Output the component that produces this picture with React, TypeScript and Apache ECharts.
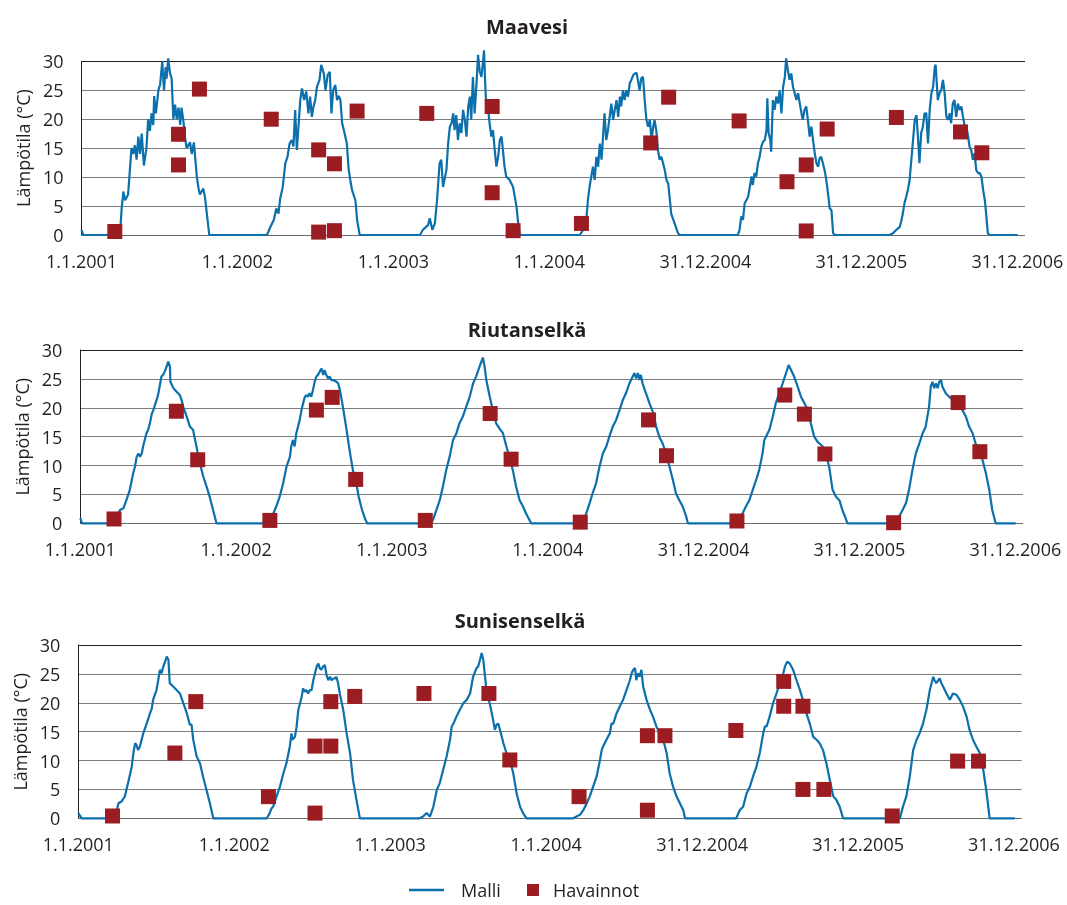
import React, { useEffect, useRef } from 'react';
import * as echarts from 'echarts';

const xTickLabels = ['1.1.2001', '1.1.2002', '1.1.2003', '1.1.2004', '31.12.2004', '31.12.2005', '31.12.2006'];
const panelTitles = ['Maavesi', 'Riutanselkä', 'Sunisenselkä'];
const yAxisTitle = 'Lämpötila (°C)';
const seriesNames = ['Malli', 'Havainnot'];

// [day index from 1.1.2001, °C]
const maavesiModel: [number, number][] = [
  [0, 0.9], [4, 0], [88, 0],
  [90, 0], [94, 4.6], [98, 7.5], [102, 6.0], [109, 7.0], [117, 15.0], [121, 14.0], [125, 15.5], [129, 13.0], [133, 17.0], [137, 14.0], [141, 17.5], [146, 12.0], [152, 15.0], [156, 20.0], [160, 18.0], [164, 21.0], [168, 19.0], [170, 24.0], [174, 21.0], [180, 25.0], [184, 26.0], [189, 30.0], [193, 25.0], [197, 29.0], [199, 27.0], [203, 30.5], [207, 28.0], [211, 27.0], [215, 20.0], [219, 22.5], [223, 20.0], [227, 22.0], [231, 19.0], [234, 22.0], [238, 20.0], [242, 17.0], [246, 15.0], [254, 16.0], [258, 14.0], [263, 16.0], [270, 10.0], [274, 8.0], [277, 7.0], [285, 8.0], [289, 6.5], [299, 0],
  [434, 0], [442, 1.4], [450, 2.6], [456, 4.6], [461, 3.7], [465, 6.3], [471, 8.3], [477, 12.4], [482, 13.5], [487, 15.8], [492, 16.4], [496, 15.3], [500, 21.6], [504, 14.7], [512, 23.3], [516, 25.3], [521, 23.3], [526, 24.8], [531, 21.0], [535, 23.9], [539, 20.4], [543, 22.2], [547, 23.3], [551, 25.6], [557, 26.8], [561, 29.4], [567, 27.9], [571, 25.0], [576, 27.6], [581, 28.2], [585, 21.0], [589, 25.0], [594, 25.9], [598, 23.3], [602, 24.0], [606, 23.3], [610, 19.3], [614, 18.1], [621, 15.8], [625, 11.5], [629, 9.5], [633, 7.8], [641, 6.0], [645, 2.6], [651, 0],
  [792, 0], [799, 0.9], [811, 1.7], [815, 2.9], [821, 0.9], [827, 2.0], [832, 6.0], [838, 12.4], [842, 13.0], [846, 8.3], [854, 11.2], [858, 15.8], [862, 18.7], [866, 19.3], [870, 21.0], [873, 18.1], [877, 20.7], [881, 16.4], [885, 19.3], [889, 17.6], [893, 21.6], [897, 19.9], [901, 17.0], [905, 22.2], [909, 23.9], [912, 19.9], [916, 27.3], [920, 21.0], [924, 25.6], [928, 31.1], [932, 28.2], [936, 27.3], [940, 30.2], [942, 31.9], [945, 25.6], [948, 21.0], [951, 22.2], [955, 19.3], [959, 17.0], [963, 18.1], [967, 14.7], [971, 11.8], [975, 13.5], [979, 16.4], [983, 17.0], [987, 14.1], [990, 11.8], [994, 10.1], [1002, 9.5], [1010, 8.3], [1018, 4.9], [1022, 2.0], [1026, 0],
  [1166, 0], [1174, 0.9], [1182, 3.2], [1185, 6.0], [1189, 8.3], [1193, 10.1], [1197, 11.8], [1201, 9.5], [1205, 13.5], [1209, 11.8], [1213, 15.8], [1217, 13.0], [1221, 17.6], [1224, 21.0], [1228, 16.4], [1232, 18.1], [1236, 20.4], [1240, 22.7], [1244, 19.9], [1248, 21.6], [1252, 23.3], [1256, 20.4], [1260, 23.9], [1263, 22.2], [1267, 25.0], [1271, 23.3], [1275, 25.0], [1279, 23.9], [1283, 26.2], [1287, 26.8], [1291, 27.6], [1295, 27.9], [1299, 28.0], [1302, 26.8], [1306, 25.0], [1310, 27.1], [1314, 27.3], [1318, 23.3], [1322, 19.9], [1326, 18.7], [1330, 19.9], [1334, 16.4], [1338, 18.7], [1341, 19.9], [1345, 18.1], [1349, 14.7], [1353, 13.0], [1357, 13.5], [1361, 12.4], [1365, 11.2], [1369, 9.5], [1373, 8.9], [1377, 6.0], [1380, 3.7], [1388, 2.0], [1396, 0.3], [1400, 0],
  [1536, 0], [1540, 0.9], [1544, 3.2], [1548, 2.6], [1552, 5.5], [1556, 6.0], [1560, 6.6], [1564, 8.3], [1568, 10.1], [1571, 8.6], [1575, 10.7], [1579, 10.1], [1583, 12.4], [1587, 13.5], [1591, 15.3], [1595, 16.1], [1599, 16.4], [1603, 18.1], [1605, 23.6], [1608, 17.6], [1612, 16.4], [1614, 14.4], [1618, 23.3], [1622, 21.6], [1626, 23.9], [1630, 22.7], [1634, 25.0], [1638, 21.0], [1642, 25.6], [1646, 27.3], [1649, 30.5], [1653, 28.5], [1657, 26.8], [1661, 27.9], [1665, 25.6], [1669, 24.5], [1673, 23.3], [1677, 24.5], [1681, 22.7], [1685, 21.0], [1688, 19.9], [1692, 21.6], [1696, 22.2], [1700, 19.9], [1704, 17.0], [1708, 18.7], [1712, 16.4], [1716, 14.1], [1720, 12.4], [1724, 11.8], [1727, 13.2], [1731, 13.5], [1735, 12.4], [1739, 11.2], [1743, 9.5], [1747, 7.2], [1751, 4.6], [1755, 4.3], [1759, 0.3], [1763, 0],
  [1891, 0], [1899, 0.3], [1907, 0.9], [1915, 1.4], [1919, 2.6], [1922, 3.7], [1926, 5.5], [1930, 6.6], [1934, 7.8], [1938, 9.5], [1942, 13.0], [1946, 16.4], [1950, 19.9], [1954, 20.7], [1958, 16.4], [1961, 12.4], [1965, 17.6], [1969, 18.7], [1973, 21.0], [1977, 21.0], [1981, 15.8], [1985, 21.6], [1989, 24.5], [1993, 25.6], [1997, 29.1], [1999, 29.4], [2002, 25.6], [2004, 23.3], [2008, 24.5], [2012, 25.0], [2016, 26.8], [2020, 24.5], [2024, 20.4], [2028, 19.9], [2032, 21.0], [2035, 19.3], [2039, 22.7], [2043, 23.3], [2047, 20.4], [2051, 22.7], [2055, 21.6], [2059, 22.2], [2063, 20.4], [2067, 18.7], [2071, 18.7], [2075, 17.0], [2078, 15.3], [2082, 14.7], [2086, 13.0], [2090, 14.1], [2094, 11.2], [2098, 10.7], [2102, 10.7], [2106, 10.1], [2110, 7.8], [2114, 6.0], [2117, 3.7], [2121, 0.3], [2125, 0], [2191, 0],
];
const maavesiObs: [number, number][] = [
  [78, 0.6], [227, 17.4], [227, 12.1], [276, 25.2], [444, 20.0], [555, 14.7], [555, 0.5], [592, 12.3], [592, 0.75], [645, 21.4], [808, 21.0], [961, 22.2], [961, 7.3], [1010, 0.75], [1170, 2.0], [1332, 15.9], [1374, 23.8], [1539, 19.7], [1651, 9.2], [1696, 12.1], [1696, 0.7], [1745, 18.3], [1907, 20.3], [2057, 17.8], [2107, 14.2],
];

const riutanselkaModel: [number, number][] = [
  [0, 0.9], [4, 0], [77, 0], [93, 2.3], [101, 2.6], [108, 4.0], [116, 5.8], [124, 8.7], [128, 9.8], [132, 11.5], [136, 12.1], [140, 11.5], [144, 12.1], [147, 13.3], [155, 15.6], [159, 16.2], [163, 17.3], [167, 18.8], [171, 19.6], [175, 20.5], [179, 21.4], [183, 22.5], [187, 24.2], [190, 25.4], [194, 25.7], [198, 26.3], [202, 27.1], [206, 28.0], [210, 27.1], [211, 24.5], [218, 23.4], [225, 22.8], [233, 22.2], [237, 21.4], [241, 20.2], [249, 18.5], [257, 16.7], [264, 16.2], [272, 13.3], [280, 10.4], [288, 8.1], [296, 6.3], [303, 4.6], [311, 2.3], [319, 0],
  [444, 0], [452, 1.7], [459, 2.9], [467, 4.6], [475, 6.9], [483, 9.8], [491, 11.5], [494, 13.3], [498, 14.4], [502, 13.3], [506, 15.6], [514, 17.9], [518, 19.6], [522, 20.8], [526, 21.9], [530, 22.2], [533, 21.9], [537, 22.5], [541, 21.9], [545, 23.1], [549, 24.5], [553, 25.4], [557, 25.7], [561, 26.3], [565, 26.8], [569, 25.7], [572, 26.5], [576, 25.7], [580, 25.1], [584, 25.4], [588, 24.8], [592, 24.8], [600, 24.5], [604, 24.2], [608, 23.1], [615, 20.2], [623, 16.5], [631, 12.5], [639, 9.0], [645, 7.6], [652, 4.6], [660, 2.3], [668, 0.6], [672, 0],
  [822, 0], [826, 0.6], [834, 2.3], [842, 4.0], [849, 6.3], [857, 9.2], [865, 11.5], [873, 14.4], [881, 15.6], [888, 17.3], [896, 18.5], [904, 20.2], [912, 21.9], [920, 24.2], [927, 25.4], [935, 27.1], [943, 28.7], [947, 27.1], [951, 24.8], [959, 21.9], [966, 19.6], [974, 17.3], [982, 16.4], [990, 15.6], [998, 13.3], [1005, 11.5], [1013, 9.2], [1021, 6.3], [1029, 4.0], [1037, 2.9], [1044, 1.7], [1056, 0],
  [1177, 0], [1185, 1.7], [1193, 3.5], [1200, 5.2], [1208, 6.9], [1216, 9.8], [1224, 12.1], [1232, 13.3], [1239, 15.0], [1247, 16.7], [1255, 17.9], [1263, 19.6], [1271, 21.4], [1278, 22.5], [1286, 24.2], [1294, 25.4], [1298, 26.0], [1302, 25.1], [1306, 26.0], [1310, 24.8], [1313, 25.7], [1317, 24.2], [1325, 22.5], [1333, 20.8], [1341, 19.3], [1349, 16.7], [1356, 15.0], [1364, 13.8], [1372, 12.1], [1380, 9.8], [1388, 7.5], [1395, 5.2], [1403, 4.0], [1411, 2.9], [1419, 1.2], [1423, 0],
  [1544, 0], [1551, 1.7], [1559, 2.9], [1567, 4.0], [1575, 5.8], [1583, 7.5], [1590, 9.2], [1598, 12.1], [1602, 14.4], [1606, 15.0], [1614, 16.2], [1622, 18.5], [1629, 20.8], [1637, 22.5], [1645, 24.2], [1653, 26.0], [1659, 27.4], [1665, 26.5], [1672, 25.4], [1680, 23.7], [1688, 21.9], [1696, 20.8], [1704, 19.6], [1711, 17.3], [1719, 15.0], [1727, 14.1], [1739, 13.3], [1746, 12.1], [1754, 9.8], [1762, 5.8], [1770, 4.6], [1778, 4.0], [1785, 2.3], [1797, 0],
  [1910, 0], [1918, 1.2], [1926, 2.3], [1934, 3.5], [1941, 5.8], [1949, 9.2], [1957, 12.1], [1965, 13.8], [1973, 15.6], [1980, 16.7], [1988, 20.2], [1992, 23.7], [1996, 24.5], [2000, 23.4], [2004, 24.2], [2008, 23.4], [2012, 24.5], [2016, 24.8], [2019, 23.7], [2027, 22.5], [2035, 21.9], [2043, 21.4], [2051, 21.4], [2058, 20.2], [2066, 19.6], [2074, 18.5], [2082, 16.7], [2090, 15.6], [2097, 13.8], [2105, 12.7], [2113, 11.0], [2121, 8.7], [2129, 5.8], [2136, 2.3], [2144, 0], [2191, 0],
];
const riutanselkaObs: [number, number][] = [
  [79, 0.75], [225, 19.4], [275, 11.0], [444, 0.5], [553, 19.6], [590, 21.8], [645, 7.6], [808, 0.5], [960, 19.0], [1009, 11.1], [1171, 0.2], [1331, 17.9], [1373, 11.7], [1538, 0.4], [1650, 22.2], [1696, 18.9], [1744, 12.0], [1905, 0.1], [2056, 20.9], [2107, 12.4],
];

const sunisenselkaModel: [number, number][] = [
  [0, 0.9], [8, 0], [86, 0], [94, 2.6], [101, 2.9], [109, 3.8], [117, 6.3], [125, 8.9], [129, 11.3], [133, 13.0], [136, 12.7], [140, 11.8], [144, 12.4], [152, 14.7], [160, 16.4], [168, 18.2], [172, 19.0], [175, 20.5], [183, 22.2], [187, 23.9], [191, 25.7], [195, 25.1], [199, 26.3], [203, 27.1], [207, 28.0], [211, 27.4], [214, 23.4], [222, 22.8], [230, 22.2], [238, 21.6], [246, 19.9], [254, 18.2], [261, 16.2], [265, 16.2], [269, 13.6], [277, 10.7], [285, 9.5], [292, 7.2], [300, 4.9], [308, 2.6], [316, 0],
  [441, 0], [448, 0.9], [452, 1.7], [456, 2.0], [464, 3.8], [472, 5.5], [480, 7.8], [487, 9.5], [495, 12.4], [499, 14.7], [501, 13.6], [507, 14.1], [511, 15.9], [515, 18.8], [519, 19.9], [523, 21.1], [526, 22.5], [530, 21.9], [534, 22.2], [538, 21.6], [542, 22.2], [546, 22.2], [550, 23.9], [554, 25.1], [558, 26.3], [562, 26.8], [565, 26.0], [569, 25.7], [573, 26.3], [577, 26.5], [581, 24.8], [585, 23.9], [589, 24.5], [593, 23.9], [597, 24.2], [601, 24.2], [604, 24.5], [608, 23.4], [612, 21.6], [620, 18.8], [628, 14.7], [636, 11.3], [643, 6.6], [651, 3.2], [659, 0],
  [799, 0], [807, 0.3], [815, 0.9], [823, 0.3], [831, 2.0], [839, 4.9], [846, 6.1], [854, 8.4], [862, 10.7], [870, 13.6], [874, 15.9], [878, 16.4], [885, 17.6], [893, 18.8], [901, 19.9], [909, 20.5], [917, 21.6], [924, 24.5], [932, 26.0], [936, 26.3], [940, 27.4], [944, 28.6], [948, 27.4], [952, 24.5], [956, 21.6], [963, 19.9], [971, 17.0], [975, 15.3], [979, 16.2], [983, 16.4], [987, 15.3], [995, 13.0], [1002, 11.3], [1010, 10.1], [1018, 7.8], [1026, 4.3], [1034, 2.0], [1041, 0.9], [1049, 0],
  [1158, 0], [1166, 0.3], [1174, 0.6], [1182, 1.4], [1190, 2.6], [1197, 3.8], [1205, 5.5], [1213, 7.2], [1221, 10.1], [1225, 11.8], [1228, 12.4], [1236, 13.6], [1244, 14.7], [1248, 16.4], [1252, 16.4], [1260, 18.2], [1267, 19.3], [1275, 20.5], [1283, 22.2], [1291, 23.9], [1295, 25.1], [1299, 25.7], [1303, 26.0], [1306, 23.9], [1310, 25.1], [1314, 24.5], [1318, 25.7], [1322, 22.8], [1330, 20.5], [1338, 18.8], [1345, 17.6], [1353, 15.9], [1361, 14.7], [1369, 13.6], [1377, 11.3], [1384, 7.8], [1392, 5.5], [1400, 3.8], [1408, 2.6], [1416, 1.4], [1420, 0],
  [1540, 0], [1548, 1.4], [1556, 2.0], [1564, 4.3], [1572, 5.5], [1579, 7.2], [1587, 8.9], [1595, 11.3], [1603, 14.7], [1607, 15.9], [1611, 15.9], [1618, 17.6], [1626, 19.9], [1634, 21.6], [1642, 23.4], [1650, 25.1], [1654, 26.3], [1659, 27.1], [1665, 26.8], [1673, 25.7], [1681, 23.9], [1689, 22.2], [1696, 20.5], [1704, 18.2], [1712, 16.4], [1720, 14.1], [1728, 13.6], [1735, 13.0], [1743, 11.8], [1751, 9.5], [1759, 6.6], [1767, 3.8], [1774, 3.2], [1782, 2.0], [1790, 0],
  [1923, 0], [1930, 2.0], [1938, 3.8], [1946, 7.2], [1954, 11.8], [1962, 13.6], [1969, 14.7], [1977, 16.4], [1985, 18.8], [1993, 22.2], [2001, 24.5], [2004, 23.9], [2008, 23.4], [2016, 24.2], [2020, 23.4], [2024, 22.8], [2032, 21.6], [2040, 20.5], [2047, 21.6], [2055, 21.4], [2063, 20.5], [2071, 19.3], [2079, 17.6], [2086, 15.3], [2094, 13.6], [2102, 12.4], [2110, 11.3], [2118, 8.4], [2125, 4.9], [2133, 0], [2192, 0],
];
const sunisenselkaObs: [number, number][] = [
  [80, 0.4], [226, 11.3], [275, 20.2], [445, 3.75], [554, 0.9], [554, 12.5], [591, 12.5], [591, 20.2], [647, 21.1], [809, 21.6], [961, 21.6], [1010, 10.1], [1172, 3.75], [1332, 1.4], [1332, 14.3], [1373, 14.3], [1539, 15.2], [1651, 23.7], [1651, 19.4], [1696, 19.4], [1696, 5.0], [1745, 5.0], [1905, 0.4], [2058, 9.9], [2107, 9.9],
];

const modelSeries = [maavesiModel, riutanselkaModel, sunisenselkaModel];
const obsSeries = [maavesiObs, riutanselkaObs, sunisenselkaObs];

const FONT = "'Open Sans', sans-serif";
const TEXT = '#231f20';
const LINE_COLOR = '#0b70ab';
const OBS_COLOR = '#9b1c21';

const grids = [
  { left: 81.5, top: 61.3, width: 943.5, height: 173.7 },
  { left: 80.3, top: 350, width: 942.7, height: 173.3 },
  { left: 78.3, top: 645, width: 943.4, height: 173.3 },
];
const titlePos = [[527, 26], [527, 329], [520, 620]];
const yNamePos = [[23, 148], [21.7, 436.7], [20, 731.7]];

export default function App() {
  const ref = useRef<HTMLDivElement>(null);
  useEffect(() => {
    if (!ref.current) return;
    const chart = echarts.init(ref.current, undefined, { renderer: 'svg' });
    const splitColors = ['#6b6b6b', '#7d7d7d', '#7d7d7d', '#7d7d7d', '#7d7d7d', '#7d7d7d', '#231f20'];
    const graphic: any[] = [];
    panelTitles.forEach((t, i) => {
      graphic.push({
        type: 'text', x: titlePos[i][0], y: titlePos[i][1],
        style: { text: t, fontFamily: FONT, fontSize: 20, fontWeight: 'bold', fill: TEXT, textAlign: 'center', textVerticalAlign: 'middle' },
      });
      graphic.push({
        type: 'text', x: yNamePos[i][0], y: yNamePos[i][1], rotation: Math.PI / 2,
        style: { text: yAxisTitle, fontFamily: FONT, fontSize: 18, fill: TEXT, textAlign: 'center', textVerticalAlign: 'middle' },
      });
    });
    const legendText = { fontSize: 18, lineHeight: 18, color: TEXT, fontFamily: FONT };
    const option: any = {
      animation: false,
      textStyle: { fontFamily: FONT },
      grid: grids.map((g) => ({ ...g, containLabel: false })),
      xAxis: grids.map((_, i) => ({
        type: 'value', gridIndex: i, min: 0, max: 2208, interval: 365,
        axisLine: { show: false }, axisTick: { show: false }, splitLine: { show: false },
        axisLabel: {
          margin: 17, fontSize: 18, color: TEXT, fontFamily: FONT,
          formatter: (v: number) => (v % 365 === 0 && v / 365 < xTickLabels.length ? xTickLabels[v / 365] : ''),
        },
      })),
      yAxis: grids.map((_, i) => ({
        type: 'value', gridIndex: i, min: 0, max: 30, interval: 5,
        axisLine: { show: true, lineStyle: { color: TEXT, width: 1 } },
        axisTick: { show: false },
        axisLabel: { margin: 18, fontSize: 18, color: TEXT, fontFamily: FONT },
        splitLine: { show: true, lineStyle: { color: splitColors, width: 1 } },
      })),
      legend: [
        {
          data: [{ name: seriesNames[0], icon: 'rect' }], left: 409, top: 881, padding: 0, itemWidth: 35, itemHeight: 2.5, selectedMode: false,
          itemStyle: { color: LINE_COLOR },
          textStyle: { ...legendText, padding: [0, 0, 0, 12] },
        },
        {
          data: [{ name: seriesNames[1], icon: 'rect' }], left: 527, top: 881, padding: 0, itemWidth: 12, itemHeight: 12, selectedMode: false,
          textStyle: { ...legendText, padding: [0, 0, 0, 9] },
        },
      ],
      graphic,
      series: [
        ...modelSeries.map((d, i) => ({
          name: seriesNames[0], type: 'line', xAxisIndex: i, yAxisIndex: i, data: d,
          symbol: 'none', showSymbol: false, clip: false, z: 2,
          lineStyle: { color: LINE_COLOR, width: 2.2 }, itemStyle: { color: LINE_COLOR },
        })),
        ...obsSeries.map((d, i) => ({
          name: seriesNames[1], type: 'scatter', xAxisIndex: i, yAxisIndex: i, data: d,
          symbol: 'rect', symbolSize: 15, z: 3, clip: false,
          itemStyle: { color: OBS_COLOR, opacity: 1 },
        })),
      ],
    };
    chart.setOption(option);
    return () => chart.dispose();
  }, []);
  return <div ref={ref} style={{ position: 'fixed', left: 0, top: 0, width: 1067, height: 905 }} />;
}
